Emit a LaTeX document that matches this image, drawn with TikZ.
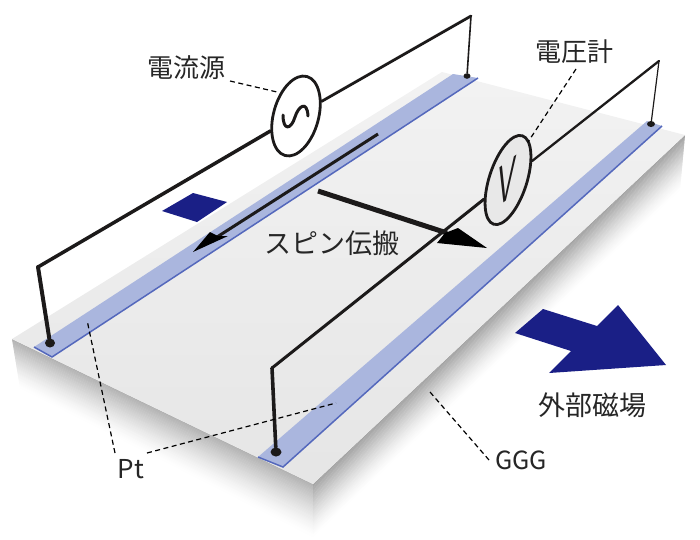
\documentclass[tikz,border=0pt]{standalone}
\usepackage{xcolor}
\usepackage{fontspec}
\setmainfont{Noto Sans CJK JP}
\newfontfamily\vfont{Liberation Sans}
\usetikzlibrary{calc, shapes.geometric}
\definecolor{slabtop}{HTML}{E8E8E8}
\definecolor{ptfill}{HTML}{AAB6DE}
\definecolor{ptedge}{HTML}{5468BC}
\definecolor{fieldblue}{HTML}{1A1F86}
\definecolor{wirecol}{HTML}{1C1A1A}
\tikzset{
  lbl/.style={inner sep=0pt, text=black!85, font=\fontsize{26}{26}\selectfont},
  leader/.style={draw=black, line width=1.2pt, dash pattern=on 5pt off 3.5pt},
  ptstrip/.style={fill=ptfill},
  ptside/.style={draw=ptedge, line width=1.5pt},
  wire/.style={draw=wirecol, line cap=round, line join=round},
  meter/.style={draw=wirecol, ellipse, inner sep=0pt, line width=2.8pt},
  pad/.style={fill=wirecol, ellipse, inner sep=0pt},
  fieldarrow/.style={fill=fieldblue},
}
\begin{document}
\begin{tikzpicture}[x=1pt, y=-1pt]
  \useasboundingbox (0,0) rectangle (700,539);
  % slab corners
  \coordinate (slabl) at (12,339);
  \coordinate (slabb) at (442,72);
  \coordinate (slabr) at (685,135);
  \coordinate (slabf) at (313,484);
  \coordinate (sidel) at (20,388);
  \coordinate (sidef) at (313,537);
  \coordinate (sider) at (680,190);
  % side faces
  \foreach \k in {0,...,39} {
    \pgfmathsetmacro\tlo{\k/40}
    \pgfmathsetmacro\thi{(\k+1.3)/40}
    \pgfmathsetmacro\shL{30*(1-\tlo)^1.4}
    \pgfmathsetmacro\shR{36*(1-\tlo)^1.4}
    \fill[black!\shL] ($(slabl)!\tlo!(sidel)$) -- ($(slabf)!\tlo!(sidef)$) -- ($(slabf)!\thi!(sidef)$) -- ($(slabl)!\thi!(sidel)$) -- cycle;
    \fill[black!\shR] ($(slabf)!\tlo!(sidef)$) -- ($(slabr)!\tlo!(sider)$) -- ($(slabr)!\thi!(sider)$) -- ($(slabf)!\thi!(sidef)$) -- cycle;
  }
  \shade[top color=black!5, bottom color=black!10] (slabl) -- (slabb) -- (slabr) -- (slabf) -- cycle;
  % Pt strips
  \fill[ptstrip] (34,347) -- (453,74) -- (478,78) -- (52,357) -- cycle;
  \draw[ptside] (34,347) -- (52,357) -- (478,78);
  \fill[ptstrip] (258,457) -- (647,121) -- (662,126) -- (283,467) -- cycle;
  \draw[ptside] (258,457) -- (283,467) -- (662,126);
  % blue marks
  \fill[fieldarrow] (162,211) -- (193,193) -- (227,202) -- (197,222) -- cycle;
  \fill[fieldarrow] (515,333) -- (543,309) -- (597,326) -- (618,305) -- (666,365) -- (549,373) -- (571,351) -- cycle;
  % spin arrows
  \coordinate (curtail) at (378,134);
  \coordinate (curneck) at (217,237);
  \coordinate (spintail) at (318,191);
  \coordinate (spinneck) at (447,233);
  \draw[wirecol, line width=3pt] (curtail) -- (curneck);
  \fill[black] (193,252) -- (210,232) -- (218,236) -- (228,236) -- cycle;
  \draw[wirecol, line width=5pt] (spintail) -- (spinneck);
  \fill[black] (487,248) -- (437,243) -- (445,233) -- (458,228) -- cycle;
  % terminals and corners
  \node[pad, minimum width=10pt, minimum height=9pt] (padaf) at (50,343) {};
  \node[pad, minimum width=7pt, minimum height=5.5pt] (padab) at (467,76) {};
  \node[pad, minimum width=11pt, minimum height=9pt] (padvf) at (276,452) {};
  \node[pad, minimum width=8pt, minimum height=6pt] (padvb) at (651,124) {};
  \coordinate (cornaf) at (38,267);
  \coordinate (cornab) at (471,16);
  \coordinate (cornvf) at (272,368);
  \coordinate (cornvb) at (659,61);
  % meters
  \node[meter, fill=white, minimum width=45pt, minimum height=82pt, rotate=-15.5] (acsrc) at (296,116) {};
  \node[meter, fill=slabtop, minimum width=37.6pt, minimum height=93pt, rotate=-18] (vmeter) at (508,180) {};
  \draw[wire, line width=3pt] (283,115) .. controls (283,131) and (291,130) .. (295,117) .. controls (298,107) and (307,99) .. (308,116);
  \node[inner sep=0pt, transform shape, cm={1.29,0.98,0.24,2.95,(0,0)}, font=\vfont\fontsize{20}{20}\selectfont, text=wirecol] (vglyph) at (507,182) {V};
  % wires
  \draw[wire, line width=4pt] (padaf) -- (cornaf);
  \draw[wire, line width=3.5pt] (cornaf) -- (acsrc);
  \draw[wire, line width=2.8pt] (acsrc) -- (cornab);
  \draw[wire, line width=1.6pt] (cornab) -- (padab);
  \draw[wire, line width=3.6pt] (padvf) -- (cornvf);
  \draw[wire, line width=3pt] (cornvf) -- (vmeter);
  \draw[wire, line width=2.3pt] (vmeter) -- (cornvb);
  \draw[wire, line width=1.2pt] (cornvb) -- (padvb);
  % labels
  \node[lbl] (lblcur) at (186,68) {電流源};
  \node[lbl] (lblvolt) at (574,52) {電圧計};
  \node[lbl, font=\fontsize{27}{27}\selectfont] (lblspin) at (332,243) {スピン伝搬};
  \node[lbl, font=\fontsize{27}{27}\selectfont] (lblfield) at (592,405) {外部磁場};
  \node[lbl] (lblpt) at (131,469) {Pt};
  \node[lbl, font=\fontsize{25}{25}\selectfont] (lblggg) at (521,460) {GGG};
  % leaders
  \coordinate (curtip) at (277,92);
  \coordinate (volttip) at (528,142);
  \coordinate (ptatip) at (87,320);
  \coordinate (ptbtip) at (336,403);
  \coordinate (gggtip) at (430,392);
  \draw[leader] (230,81) -- (curtip);
  \draw[leader] (576,69) -- (volttip);
  \draw[leader] (115,453) -- (ptatip);
  \draw[leader] (147,453) -- (ptbtip);
  \draw[leader] (489,460) -- (gggtip);
\end{tikzpicture}
\end{document}
